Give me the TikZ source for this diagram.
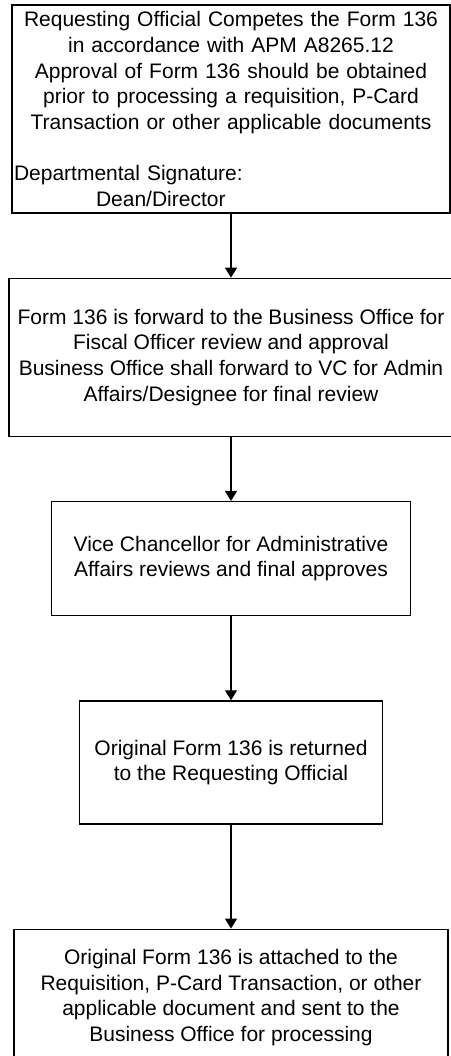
\documentclass[tikz,border=0pt]{standalone}
\usepackage{fontspec}
\setmainfont{Liberation Sans}
\usetikzlibrary{arrows.meta, positioning}

\begin{document}
\begin{tikzpicture}[
  x=1pt, y=1pt,
  box/.style={draw,rectangle,line width=1.3pt,align=center,inner sep=1pt,
    font=\fontsize{21}{25.6}\selectfont},
  >={Triangle[width=12pt,length=10pt]}
]
\useasboundingbox (0,0) rectangle (450,-1056);

% Nodes
\node[box, minimum width=438pt, minimum height=208pt, text width=434pt] (request) at (231,-109)
  {Requesting Official Competes the Form 136\\
   in accordance with APM A8265.12\\
   Approval of Form 136 should be obtained\\
   prior to processing a requisition, P-Card\\
   Transaction or other applicable documents\\[25.6pt]
   \makebox[\linewidth][l]{Departmental Signature:}\\
   \makebox[\linewidth][l]{\hspace{82pt}Dean/Director}};
\node[box, below=64pt of request, minimum width=444pt, minimum height=158pt] (fiscal)
  {Form 136 is forward to the Business Office for\\
   Fiscal Officer review and approval\\
   Business Office shall forward to VC for Admin\\
   Affairs/Designee for final review};
\node[box, below=64pt of fiscal, minimum width=359pt, minimum height=114pt] (vcaa)
  {Vice Chancellor for Administrative\\
   Affairs reviews and final approves};
\node[box, below=84pt of vcaa, minimum width=303pt, minimum height=123pt] (returned)
  {Original Form 136 is returned\\
   to the Requesting Official};
\node[box, below=104pt of returned, minimum width=434pt, minimum height=137pt] (attach)
  {Original Form 136 is attached to the\\
   Requisition, P-Card Transaction, or other\\
   applicable document and sent to the\\
   Business Office for processing};

% Connections
\draw[->, line width=1.3pt] (request) -- (fiscal);
\draw[->, line width=1.3pt] (fiscal) -- (vcaa);
\draw[->, line width=1.3pt] (vcaa) -- (returned);
\draw[->, line width=1.3pt] (returned) -- (attach);

\end{tikzpicture}
\end{document}
